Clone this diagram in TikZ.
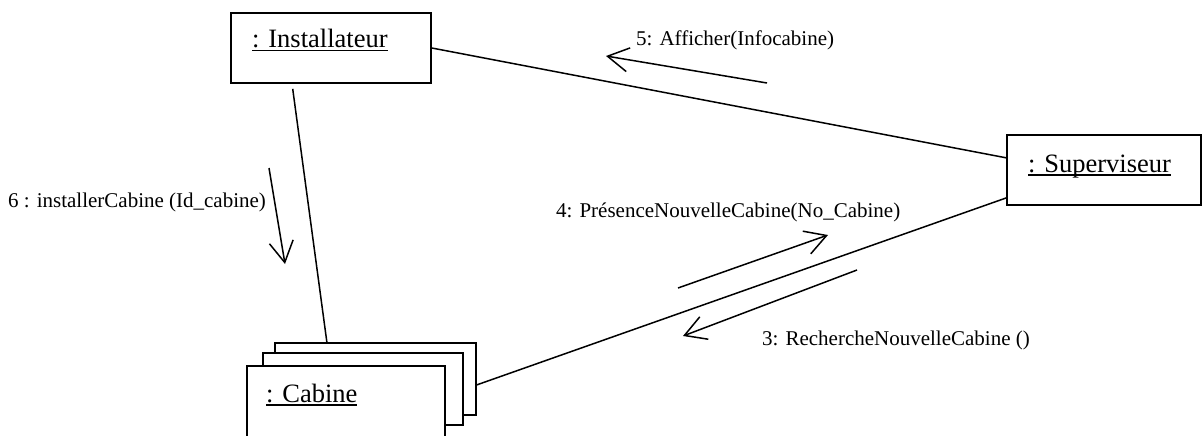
\documentclass[tikz,border=0pt]{standalone}
\usepackage{fontspec}
\setmainfont{Liberation Serif}
\usetikzlibrary{arrows.meta,calc}
% underlined object name with a rule as thick as the box outline
\newcommand\objname[1]{\sbox0{#1}\rlap{\rule[-3.5pt]{\wd0}{1.5pt}}\usebox0}

\begin{document}
\begin{tikzpicture}[x=1pt,y=-1pt,
  objbox/.style={draw, line width=1.6pt, fill=white, inner sep=0pt},
  objtext/.style={font=\fontsize{26.5}{30}\selectfont, inner sep=0pt, anchor=base west},
  msg/.style={font=\fontsize{21}{25}\selectfont, inner sep=0pt, anchor=base west},
  link/.style={line width=1.5pt},
  msgarrow/.style={line width=1.5pt, -{Straight Barb[length=21pt,width=24pt,line width=1.5pt]}}]
\useasboundingbox (0,0) rectangle (1202,436);

% objects
\node[objbox, minimum width=200pt, minimum height=70pt] (inst) at (331,48) {};
\node[objtext] (insttxt) at (252,48) {\objname{: Installateur}};

\node[objbox, minimum width=194pt, minimum height=70pt] (sup) at (1104,170) {};
\node[objtext] (suptxt) at (1028,172) {\objname{: Superviseur}};

% stacked multi-object
\node[objbox, minimum width=201pt, minimum height=72pt] (cabback) at (375.5,379) {};
\node[objbox, minimum width=200pt, minimum height=72pt] (cabmid) at (363,389) {};
\node[objbox, minimum width=198pt, minimum height=72pt] (cab) at (346,402) {};
\node[objtext] (cabtxt) at (266,402) {\objname{: Cabine}};

% links
\coordinate (supA) at ($(sup.north west)!0.33!(sup.south west)$);
\coordinate (supB) at ($(sup.north west)!0.89!(sup.south west)$);
\coordinate (instS) at ($(inst.south west)!0.31!(inst.south east)+(0,5)$);
\coordinate (cabN) at ($(cabback.north west)!0.26!(cabback.north east)$);
\coordinate (cabE) at ($(cabback.north east)!0.58!(cabback.south east)$);
\draw[link] (inst.east) -- (supA);
\draw[link] (cabE) -- (supB);
\draw[link] (instS) -- (cabN);

% messages
\coordinate (m5a) at (767,83);  \coordinate (m5b) at (606,56);
\coordinate (m6a) at (269,168); \coordinate (m6b) at (285,264);
\coordinate (m4a) at (678,288); \coordinate (m4b) at (828,235);
\coordinate (m3a) at (857,270); \coordinate (m3b) at (683,336);
\draw[msgarrow] (m5a) -- (m5b);
\draw[msgarrow] (m6a) -- (m6b);
\draw[msgarrow] (m4a) -- (m4b);
\draw[msgarrow] (m3a) -- (m3b);

\node[msg] (l5) at (636,46) {5: Afficher(Infocabine)};
\node[msg] (l6) at (8,207) {6 : installerCabine (Id\_cabine)};
\node[msg] (l4) at (556,217) {4: PrésenceNouvelleCabine(No\_Cabine)};
\node[msg] (l3) at (762,345) {3: RechercheNouvelleCabine ()};
\end{tikzpicture}
\end{document}
